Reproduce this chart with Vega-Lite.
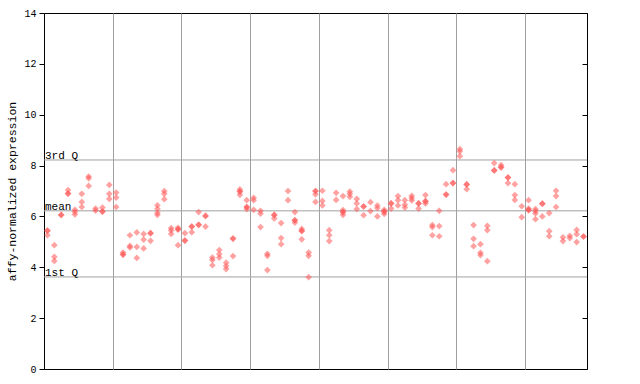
{
  "$schema": "https://vega.github.io/schema/vega-lite/v6.json",
  "width": 543,
  "height": 356,
  "autosize": {"type": "none"},
  "padding": {"left": 44, "top": 13, "right": 53, "bottom": 15},
  "background": "white",
  "config": {
    "view": {"stroke": "black", "strokeWidth": 1},
    "font": "Liberation Mono",
    "axis": {"labelFont": "Liberation Mono", "titleFont": "Liberation Mono", "labelColor": "black", "titleColor": "black", "domainColor": "black", "tickColor": "black"}
  },
  "datasets": {
    "quartiles": [
      {"label": "3rd Q", "value": 8.22},
      {"label": "mean", "value": 6.22},
      {"label": "1st Q", "value": 3.62}
    ],
    "points": [
      {"sample":1,"value":5.44},{"sample":1,"value":5.44},{"sample":1,"value":5.26},
      {"sample":2,"value":4.87},{"sample":2,"value":4.41},{"sample":2,"value":4.25},
      {"sample":3,"value":6.06},{"sample":3,"value":6.06},
      {"sample":4,"value":7.04},{"sample":4,"value":6.9},{"sample":4,"value":6.9},
      {"sample":5,"value":6.26},{"sample":5,"value":6.18},{"sample":5,"value":6.08},
      {"sample":6,"value":6.89},{"sample":6,"value":6.57},{"sample":6,"value":6.37},
      {"sample":7,"value":7.57},{"sample":7,"value":7.5},{"sample":7,"value":7.2},
      {"sample":8,"value":6.31},{"sample":8,"value":6.23},
      {"sample":9,"value":6.35},{"sample":9,"value":6.19},{"sample":9,"value":6.19},
      {"sample":10,"value":7.24},{"sample":10,"value":6.89},{"sample":10,"value":6.69},
      {"sample":11,"value":6.94},{"sample":11,"value":6.74},{"sample":11,"value":6.37},
      {"sample":12,"value":4.58},{"sample":12,"value":4.5},{"sample":12,"value":4.5},
      {"sample":13,"value":5.26},{"sample":13,"value":4.84},{"sample":13,"value":4.78},
      {"sample":14,"value":5.37},{"sample":14,"value":4.8},{"sample":14,"value":4.37},
      {"sample":15,"value":5.31},{"sample":15,"value":5.09},{"sample":15,"value":4.74},
      {"sample":16,"value":5.34},{"sample":16,"value":5.34},{"sample":16,"value":5.04},
      {"sample":17,"value":6.44},{"sample":17,"value":6.3},{"sample":17,"value":6.14},{"sample":17,"value":6.06},
      {"sample":18,"value":7.0},{"sample":18,"value":6.89},{"sample":18,"value":6.68},
      {"sample":19,"value":5.54},{"sample":19,"value":5.45},{"sample":19,"value":5.31},
      {"sample":20,"value":5.55},{"sample":20,"value":5.49},{"sample":20,"value":5.49},{"sample":20,"value":4.87},
      {"sample":21,"value":5.34},{"sample":21,"value":5.05},{"sample":21,"value":5.05},
      {"sample":22,"value":5.6},{"sample":22,"value":5.6},{"sample":22,"value":5.38},
      {"sample":23,"value":6.17},{"sample":23,"value":5.67},{"sample":23,"value":5.67},
      {"sample":24,"value":6.02},{"sample":24,"value":6.02},{"sample":24,"value":5.6},
      {"sample":25,"value":4.38},{"sample":25,"value":4.29},{"sample":25,"value":4.08},
      {"sample":26,"value":4.68},{"sample":26,"value":4.52},{"sample":26,"value":4.38},
      {"sample":27,"value":4.18},{"sample":27,"value":4.05},{"sample":27,"value":3.93},
      {"sample":28,"value":5.13},{"sample":28,"value":5.13},{"sample":28,"value":4.44},
      {"sample":29,"value":7.06},{"sample":29,"value":6.98},{"sample":29,"value":6.98},{"sample":29,"value":6.85},
      {"sample":30,"value":6.64},{"sample":30,"value":6.37},{"sample":30,"value":6.37},{"sample":30,"value":6.29},
      {"sample":31,"value":6.73},{"sample":31,"value":6.64},{"sample":31,"value":6.26},
      {"sample":32,"value":6.22},{"sample":32,"value":6.11},{"sample":32,"value":5.58},
      {"sample":33,"value":4.53},{"sample":33,"value":4.45},{"sample":33,"value":3.89},
      {"sample":34,"value":6.06},{"sample":34,"value":6.06},{"sample":34,"value":5.92},
      {"sample":35,"value":5.74},{"sample":35,"value":5.15},{"sample":35,"value":4.91},
      {"sample":36,"value":7.0},{"sample":36,"value":6.64},
      {"sample":37,"value":6.17},{"sample":37,"value":5.85},{"sample":37,"value":5.85},{"sample":37,"value":5.76},
      {"sample":38,"value":5.51},{"sample":38,"value":5.43},{"sample":38,"value":5.43},{"sample":38,"value":5.1},
      {"sample":39,"value":4.58},{"sample":39,"value":4.45},{"sample":39,"value":3.61},
      {"sample":40,"value":7.0},{"sample":40,"value":7.0},{"sample":40,"value":6.87},{"sample":40,"value":6.57},
      {"sample":41,"value":7.01},{"sample":41,"value":6.61},{"sample":41,"value":6.43},
      {"sample":42,"value":5.46},{"sample":42,"value":5.26},{"sample":42,"value":5.03},
      {"sample":43,"value":6.93},{"sample":43,"value":6.65},
      {"sample":44,"value":6.8},{"sample":44,"value":6.25},{"sample":44,"value":6.17},{"sample":44,"value":6.17},{"sample":44,"value":6.06},
      {"sample":45,"value":6.98},{"sample":45,"value":6.89},{"sample":45,"value":6.77},
      {"sample":46,"value":6.69},{"sample":46,"value":6.51},{"sample":46,"value":6.29},
      {"sample":47,"value":6.39},{"sample":47,"value":6.39},{"sample":47,"value":6.05},
      {"sample":48,"value":6.56},{"sample":48,"value":6.21},
      {"sample":49,"value":6.43},{"sample":49,"value":6.33},{"sample":49,"value":6.0},
      {"sample":50,"value":6.26},{"sample":50,"value":6.19},{"sample":50,"value":6.19},{"sample":50,"value":6.1},
      {"sample":51,"value":6.51},{"sample":51,"value":6.51},{"sample":51,"value":6.31},
      {"sample":52,"value":6.8},{"sample":52,"value":6.64},{"sample":52,"value":6.43},
      {"sample":53,"value":6.64},{"sample":53,"value":6.46},{"sample":53,"value":6.35},
      {"sample":54,"value":6.81},{"sample":54,"value":6.72},{"sample":54,"value":6.63},
      {"sample":55,"value":6.51},{"sample":55,"value":6.51},{"sample":55,"value":6.31},
      {"sample":56,"value":6.84},{"sample":56,"value":6.6},{"sample":56,"value":6.6},{"sample":56,"value":6.51},
      {"sample":57,"value":5.66},{"sample":57,"value":5.58},{"sample":57,"value":5.26},
      {"sample":58,"value":6.22},{"sample":58,"value":5.62},{"sample":58,"value":5.22},
      {"sample":59,"value":7.27},{"sample":59,"value":6.86},{"sample":59,"value":6.86},
      {"sample":60,"value":7.82},{"sample":60,"value":7.31},{"sample":60,"value":7.31},
      {"sample":61,"value":8.65},{"sample":61,"value":8.56},{"sample":61,"value":8.37},
      {"sample":62,"value":7.26},{"sample":62,"value":7.26},{"sample":62,"value":7.07},
      {"sample":63,"value":5.66},{"sample":63,"value":5.12},{"sample":63,"value":4.83},
      {"sample":64,"value":4.91},{"sample":64,"value":4.57},{"sample":64,"value":4.48},
      {"sample":65,"value":5.63},{"sample":65,"value":5.46},{"sample":65,"value":4.24},
      {"sample":66,"value":8.1},{"sample":66,"value":7.81},{"sample":66,"value":7.81},
      {"sample":67,"value":8.02},{"sample":67,"value":7.93},{"sample":67,"value":7.93},
      {"sample":68,"value":7.53},{"sample":68,"value":7.53},{"sample":68,"value":7.31},
      {"sample":69,"value":7.27},{"sample":69,"value":6.84},{"sample":69,"value":6.65},
      {"sample":70,"value":6.4},{"sample":70,"value":5.97},
      {"sample":71,"value":6.64},{"sample":71,"value":6.31},{"sample":71,"value":6.25},{"sample":71,"value":6.25},
      {"sample":72,"value":6.29},{"sample":72,"value":6.21},{"sample":72,"value":6.12},{"sample":72,"value":5.89},
      {"sample":73,"value":6.5},{"sample":73,"value":6.5},{"sample":73,"value":6.0},
      {"sample":74,"value":6.13},{"sample":74,"value":5.42},{"sample":74,"value":5.22},
      {"sample":75,"value":7.01},{"sample":75,"value":6.8},{"sample":75,"value":6.37},
      {"sample":76,"value":5.18},{"sample":76,"value":5.03},
      {"sample":77,"value":5.24},{"sample":77,"value":5.15},
      {"sample":78,"value":5.47},{"sample":78,"value":5.3},{"sample":78,"value":4.99},
      {"sample":79,"value":5.21},{"sample":79,"value":5.21}
    ]
  },
  "layer": [
    {
      "data": {"name": "quartiles"},
      "mark": {"type": "rule", "color": "#a0a0a0", "strokeWidth": 1},
      "encoding": {
        "y": {
          "field": "value", "type": "quantitative",
          "scale": {"domain": [0, 14], "nice": false, "zero": true},
          "axis": {"orient": "right", "labels": false, "domain": false, "grid": false, "tickSize": -5, "values": [0, 2, 4, 6, 8, 10, 12, 14], "title": null}
        }
      }
    },
    {
      "data": {"name": "points"},
      "mark": {"type": "point", "shape": "diamond", "filled": true, "size": 45, "color": "#ff5555", "opacity": 0.55, "strokeWidth": 0},
      "encoding": {
        "x": {
          "field": "sample", "type": "quantitative",
          "scale": {"domain": [0.5, 79.5], "nice": false, "zero": false},
          "axis": {"values": [10.5, 20.5, 30.5, 40.5, 50.5, 60.5, 70.5], "grid": true, "gridColor": "#a0a0a0", "gridOpacity": 1, "labels": false, "ticks": false, "domain": false, "title": null}
        },
        "y": {
          "field": "value", "type": "quantitative",
          "axis": {"orient": "left", "values": [0, 2, 4, 6, 8, 10, 12, 14], "grid": false, "tickSize": 5, "labelPadding": 3, "labelFontSize": 10, "title": "affy-normalized expression", "titleFontSize": 11.5, "titleFontWeight": "normal", "titlePadding": 6}
        }
      }
    },
    {
      "data": {"name": "quartiles"},
      "mark": {"type": "text", "align": "left", "baseline": "alphabetic", "dx": 1, "dy": -1, "fontSize": 11, "font": "Liberation Mono", "color": "black"},
      "encoding": {
        "x": {"datum": 0.5},
        "y": {"field": "value", "type": "quantitative", "axis": null},
        "text": {"field": "label"}
      }
    }
  ],
  "resolve": {"axis": {"y": "independent"}}
}
